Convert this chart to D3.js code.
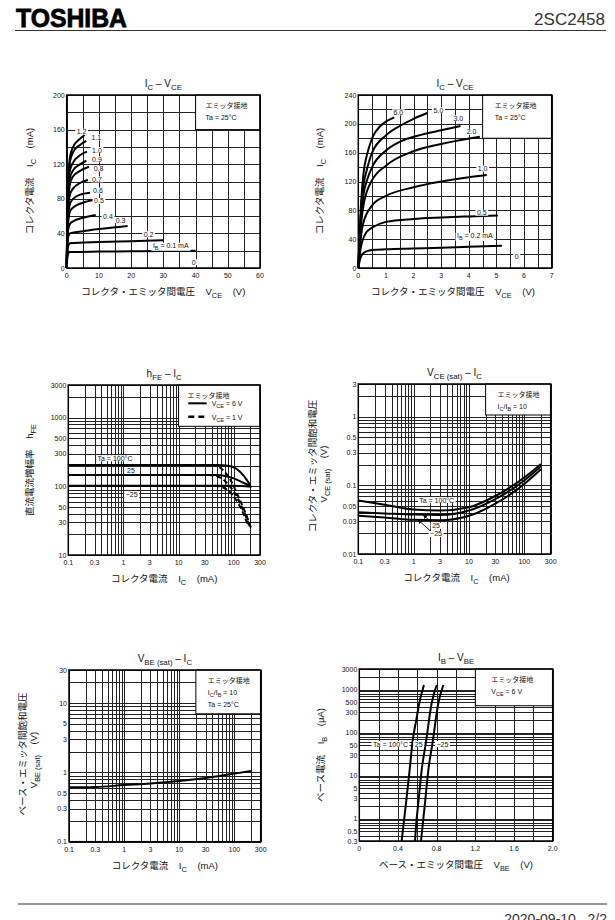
<!DOCTYPE html>
<html>
<head>
<meta charset="utf-8">
<script src="https://cdn.jsdelivr.net/npm/d3@7"></script>
<style>
  body { margin: 0; background: #fff; }
  text { font-family: "Liberation Sans", "Noto Sans CJK JP", sans-serif; fill: #111; white-space: pre; }
</style>
</head>
<body>
<div id="page"></div>
<script>
// ---- data ----

// IC - VCE (0..60 V), IB in mA ; points are [VCE, IC]
const c1Names = ["I_{B} = 0.1 mA", "0.2", "0.3", "0.4", "0.5", "0.6", "0.7", "0.8", "0.9", "1.0", "1.1", "1.2", "0"];
const c1Curves = [
  [[0, 0], [0.2, 12], [0.5, 17], [1, 18.5], [10, 19], [20, 19.3], [30, 19.6], [40, 20]],
  [[0, 0], [0.2, 18], [0.5, 26], [1, 28.5], [10, 30], [20, 31], [30, 32]],
  [[0, 0], [0.2, 25], [0.5, 36], [1, 40], [5, 42.5], [10, 45], [18.9, 48.5]],
  [[0, 0], [0.2, 30], [0.5, 45], [1, 51], [2, 54], [5, 58], [9, 61.3]],
  [[0, 0], [0.2, 35], [0.5, 55], [1, 65], [2, 70], [5, 75.5], [8.2, 78.6]],
  [[0, 0], [0.2, 40], [0.5, 62], [1, 74], [2, 80], [4, 84.5], [7.2, 87]],
  [[0, 0], [0.2, 45], [0.5, 70], [1, 85], [2, 92], [4, 98], [6.6, 101.7]],
  [[0, 0], [0.2, 50], [0.5, 78], [1, 97], [2, 106], [4, 112], [6.9, 117]],
  [[0, 0], [0.2, 52], [0.5, 82], [1, 104], [2, 113], [4, 119.5], [6.1, 124]],
  [[0, 0], [0.2, 55], [0.5, 88], [1, 113], [2, 122], [4, 130], [6.3, 134.5]],
  [[0, 0], [0.2, 58], [0.5, 95], [1, 123], [2, 134], [4, 142], [6.1, 147]],
  [[0, 0], [0.2, 60], [0.5, 100], [1, 128], [2, 140], [4, 149], [5.6, 153.8]]
];
const c1LabelAt = [[32.3, 25.8], [25.4, 39], [16.7, 55.5], [12.8, 60], [10, 77.5], [9.7, 89.4], [9.4, 102.5],
  [9.9, 115], [9.4, 125.7], [9.4, 136.4], [9.2, 151], [4.6, 157.6], [39.4, 6.6]];
const c1XTicks = ["0", "10", "20", "30", "40", "50", "60"];
const c1YTicks = ["0", "40", "80", "120", "160", "200"];

// IC - VCE (0..7 V)
const c2Names = ["I_{B} = 0.2 mA", "0.5", "1.0", "2.0", "3.0", "5.0", "6.0", "0"];
const c2Curves = [
  [[0, 0], [0.05, 10], [0.1, 16], [0.2, 21], [0.3, 23], [0.5, 25], [1, 26], [2, 27], [3, 28], [4, 29.5], [5.2, 31]],
  [[0, 0], [0.05, 18], [0.1, 30], [0.2, 43], [0.3, 50], [0.5, 56], [1, 64], [2, 68], [3, 70], [4, 71.5], [5.05, 73]],
  [[0, 0], [0.05, 25], [0.1, 45], [0.2, 65], [0.3, 75], [0.5, 87], [1, 100], [2, 112], [3, 120], [4, 126], [4.65, 129]],
  [[0, 0], [0.05, 35], [0.1, 60], [0.2, 90], [0.3, 105], [0.5, 122], [1, 142], [2, 162], [3, 172], [3.5, 176], [4.4, 182]],
  [[0, 0], [0.05, 40], [0.1, 70], [0.2, 105], [0.3, 120], [0.5, 140], [1, 163], [1.5, 175], [2.3, 185], [3, 191], [3.7, 197]],
  [[0, 0], [0.05, 45], [0.1, 80], [0.2, 118], [0.3, 135], [0.5, 160], [1, 184], [1.5, 197], [2, 207], [2.5, 215]],
  [[0, 0], [0.05, 50], [0.1, 90], [0.2, 135], [0.3, 155], [0.5, 180], [0.8, 197], [1.0, 203], [1.3, 209]]
];
const c2LabelAt = [[4.22, 44.8], [4.47, 76.7], [4.5, 138], [4.1, 189], [3.62, 207.6], [2.9, 219], [1.45, 216], [5.73, 16.6]];
const c2XTicks = ["0", "1", "2", "3", "4", "5", "6", "7"];
const c2YTicks = ["0", "40", "80", "120", "160", "200", "240"];

// hFE - IC ; [IC mA, hFE]
const c3Names = ["Ta = 100°C", "25", "−25"];
const c3Solid = [
  [[0.1, 205], [1, 205], [10, 205], [50, 205], [80, 200], [110, 182], [150, 145], [200, 104]],
  [[0.1, 147], [10, 147], [50, 146], [70, 142], [100, 131], [150, 113], [200, 101]],
  [[0.1, 102], [10, 102], [100, 102], [210, 99]]
];
const c3Dashed = [
  [[40, 205], [55, 190], [70, 160], [90, 120], [110, 85], [140, 55], [170, 38], [205, 25]],
  [[35, 147], [50, 140], [65, 125], [85, 100], [110, 75], [140, 50], [170, 35], [195, 25]],
  [[45, 102], [60, 98], [75, 90], [95, 75], [120, 57], [150, 40], [185, 26]]
];
const c3LabelAt = [[0.703, 257], [1.37, 168], [1.41, 75]];
const logXTicks = ["0.1", "0.3", "1", "3", "10", "30", "100", "300"];
const c3YTicks = ["10", "30", "50", "100", "300", "500", "1000", "3000"];

// VCE(sat) - IC ; [IC mA, VCE(sat) V]
const c4Names = ["Ta = 100°C", "25", "−25"];
const c4Curves = [
  [[0.1, 0.06], [0.3, 0.052], [1, 0.0445], [3, 0.043], [10, 0.048], [30, 0.07], [100, 0.13], [200, 0.205]],
  [[0.1, 0.0405], [0.3, 0.039], [1, 0.0375], [3, 0.037], [10, 0.043], [30, 0.063], [100, 0.118], [200, 0.19]],
  [[0.1, 0.036], [0.3, 0.034], [1, 0.0315], [3, 0.031], [10, 0.036], [30, 0.054], [100, 0.105], [200, 0.172]]
];
const c4LabelAt = [[2.61, 0.0612], [2.54, 0.0258], [2.54, 0.0196]];
const c4ArrowFrom = [[1.92, 0.0306], [1.98, 0.0219]];
const c4ArrowTo = [[1.5, 0.0372], [1.2, 0.0316]];
const c4YTicks = ["0.01", "0.03", "0.05", "0.1", "0.3", "0.5", "1", "3"];

// VBE(sat) - IC ; [IC mA, VBE(sat) V]
const c5Curve = [[0.1, 0.61], [0.2, 0.61], [0.3, 0.615], [1, 0.655], [3, 0.69], [10, 0.75], [30, 0.83], [100, 0.96], [200, 1.05]];
const c5YTicks = ["0.1", "0.3", "0.5", "1", "3", "5", "10", "30"];

// IB - VBE ; [VBE V, IB uA]
const c6Names = ["Ta = 100°C", "25", "−25"];
const c6Curves = [
  [[0.438, 0.3], [0.48, 2], [0.52, 13], [0.55, 60], [0.59, 200], [0.62, 480], [0.669, 1275]],
  [[0.576, 0.3], [0.586, 0.64], [0.61, 2.26], [0.645, 13.4], [0.69, 61], [0.748, 478], [0.8, 1275]],
  [[0.638, 0.3], [0.679, 2.26], [0.714, 13.4], [0.759, 61], [0.817, 478], [0.869, 1275]]
];
const c6LabelAt = [[0.323, 54], [0.614, 54], [0.86, 54]];
const c6XTicks = ["0", "0.4", "0.8", "1.2", "1.6", "2.0"];
const c6YTicks = ["0.3", "0.5", "1", "3", "5", "10", "30", "50", "100", "300", "500", "1000", "3000"];

// ---- drawing ----
const svg = d3.select("#page").append("svg").attr("width", 615).attr("height", 920);

// text with _{sub} parts
function rich(t, str, fs) {
  const bits = str.split(/_\{([^}]*)\}/);
  let down = false;
  bits.forEach((b, i) => {
    if (b === "") return;
    const ts = t.append("tspan").text(b);
    if (i % 2 === 1) {
      ts.attr("font-size", fs * 0.78);
      if (!down) { ts.attr("dy", fs * 0.3); down = true; }
    } else if (down) {
      ts.attr("dy", -fs * 0.3); down = false;
    }
  });
  return t;
}

function txt(g, x, y, str, fs, anchor, rot) {
  const t = g.append("text")
    .attr("font-size", fs)
    .attr("text-anchor", anchor || "middle");
  if (rot) t.attr("transform", `translate(${x},${y}) rotate(-90)`);
  else t.attr("x", x).attr("y", y);
  return rich(t, str, fs);
}

// label with white background that cuts the grid
function tag(g, px, py, str, fs) {
  const t = txt(g, px, py + fs * 0.36, str, fs, "middle");
  const bb = t.node().getBBox();
  g.insert("rect", () => t.node())
    .attr("x", bb.x - 1.5).attr("y", bb.y + 0.5)
    .attr("width", bb.width + 3).attr("height", Math.max(bb.height - 1, 0))
    .attr("fill", "#fff");
}

function chart(o) {
  const g = svg.append("g");
  const x = (o.xLog ? d3.scaleLog() : d3.scaleLinear()).domain(o.xDom).range([o.l, o.r]);
  const y = (o.yLog ? d3.scaleLog() : d3.scaleLinear()).domain(o.yDom).range([o.b, o.t]);
  // log axes: every k*10^n ; linear axes: ticks at the given count
  const xg = o.xLog ? x.ticks() : x.ticks(o.xN);
  const yg = o.yLog ? y.ticks() : y.ticks(o.yN);

  // whole grid as one path, pixel-snapped
  const snap = v => Math.round(v) + 0.5;
  let d = "";
  xg.forEach(v => { d += `M${snap(x(v))},${o.t}V${o.b}`; });
  yg.forEach(v => { d += `M${o.l},${snap(y(v))}H${o.r}`; });
  g.append("path").attr("d", d)
    .attr("fill", "none").attr("stroke", "#222").attr("stroke-width", 1)
    .attr("shape-rendering", "crispEdges");

  // condition box in the top right corner
  g.append("rect")
    .attr("x", x(o.box[0])).attr("y", o.t)
    .attr("width", o.r - x(o.box[0])).attr("height", y(o.box[1]) - o.t)
    .attr("fill", "#fff").attr("stroke", "#000").attr("stroke-width", 1);
  o.boxText.forEach((s, i) => txt(g, x(o.box[0]) + o.boxPad, o.t + 13 + i * 12, s, 7, "start"));

  g.append("rect")
    .attr("x", o.l).attr("y", o.t).attr("width", o.r - o.l).attr("height", o.b - o.t)
    .attr("fill", "none").attr("stroke", "#000").attr("stroke-width", 1.5);

  g.append("g").selectAll("text").data(o.xTicks).join("text")
    .attr("x", d => x(+d)).attr("y", o.b + 10)
    .attr("text-anchor", "middle").attr("font-size", 7).text(d => d);
  g.append("g").selectAll("text").data(o.yTicks).join("text")
    .attr("x", o.l - 2).attr("y", d => y(+d) + 2.5)
    .attr("text-anchor", "end").attr("font-size", 7).text(d => d);

  txt(g, (o.l + o.r) / 2, o.t - 8, o.title, 10);
  txt(g, (o.l + o.r) / 2 + o.xLabDx, o.b + 27, o.xLabel, 9.5);
  o.yLabel.forEach((s, i) => txt(g, o.yLabX[i], o.yLabY[i], s, 9.5, "middle", true));
  return { g, x, y };
}

function curves(c, data, dash) {
  const line = d3.line().x(d => c.x(d[0])).y(d => c.y(d[1])).curve(d3.curveMonotoneX);
  c.g.append("g").selectAll("path").data(data).join("path")
    .attr("d", line).attr("fill", "none").attr("stroke", "#000")
    .attr("stroke-width", 2).attr("stroke-dasharray", dash || null);
}

// header / footer
svg.append("text").attr("x", 16).attr("y", 27).attr("font-size", 26)
  .attr("font-weight", "bold").attr("textLength", 111).attr("lengthAdjust", "spacingAndGlyphs")
  .attr("stroke", "#000").attr("stroke-width", 0.8).style("fill", "#000").text("TOSHIBA");
svg.append("text").attr("x", 605).attr("y", 25).attr("font-size", 17)
  .attr("text-anchor", "end").style("fill", "#333").text("2SC2458");
svg.append("line").attr("x1", 15).attr("x2", 606).attr("y1", 30.5).attr("y2", 30.5)
  .attr("stroke", "#333").attr("stroke-width", 1.2);
svg.append("line").attr("x1", 18).attr("x2", 607).attr("y1", 904).attr("y2", 904)
  .attr("stroke", "#333").attr("stroke-width", 1.2);
svg.append("text").attr("x", 607).attr("y", 924).attr("font-size", 14)
  .attr("text-anchor", "end").style("fill", "#333").text("2020-09-10   2/2");

const JP_GND = "エミッタ接地";

// chart 1
const c1 = chart({
  l: 66.7, r: 260, t: 95, b: 268, xDom: [0, 60], yDom: [0, 200], xN: 12, yN: 10,
  box: [40, 160], boxPad: 10, boxText: [JP_GND, "Ta = 25°C"],
  xTicks: c1XTicks, yTicks: c1YTicks,
  title: "I_{C} – V_{CE}", xLabel: "コレクタ・エミッタ間電圧    V_{CE}    (V)", xLabDx: 0,
  yLabel: ["コレクタ電流    I_{C}    (mA)"], yLabX: [33], yLabY: [181]
});
curves(c1, c1Curves);
c1Names.forEach((s, i) => tag(c1.g, c1.x(c1LabelAt[i][0]), c1.y(c1LabelAt[i][1]), s, 7));

// chart 2
const c2 = chart({
  l: 358.3, r: 551.7, t: 95, b: 268, xDom: [0, 7], yDom: [0, 240], xN: 14, yN: 12,
  box: [4.5, 180], boxPad: 12, boxText: [JP_GND, "Ta = 25°C"],
  xTicks: c2XTicks, yTicks: c2YTicks,
  title: "I_{C} – V_{CE}", xLabel: "コレクタ・エミッタ間電圧    V_{CE}    (V)", xLabDx: -2,
  yLabel: ["コレクタ電流    I_{C}    (mA)"], yLabX: [323], yLabY: [181]
});
curves(c2, c2Curves);
c2Names.forEach((s, i) => tag(c2.g, c2.x(c2LabelAt[i][0]), c2.y(c2LabelAt[i][1]), s, 7));

// chart 3
const c3 = chart({
  l: 68.3, r: 260, t: 385, b: 555, xLog: true, yLog: true, xDom: [0.1, 300], yDom: [10, 3000],
  box: [10, 750], boxPad: 9, boxText: [JP_GND],
  xTicks: logXTicks, yTicks: c3YTicks,
  title: "h_{FE} – I_{C}", xLabel: "コレクタ電流    I_{C}    (mA)", xLabDx: 0,
  yLabel: ["直流電流増幅率    h_{FE}"], yLabX: [33], yLabY: [470]
});
curves(c3, c3Solid);
curves(c3, c3Dashed, "5,3");
c3.g.append("line").attr("x1", 188.3).attr("x2", 206.7).attr("y1", 403.3).attr("y2", 403.3)
  .attr("stroke", "#000").attr("stroke-width", 2);
c3.g.append("line").attr("x1", 188.3).attr("x2", 206.7).attr("y1", 416.7).attr("y2", 416.7)
  .attr("stroke", "#000").attr("stroke-width", 2.5).attr("stroke-dasharray", "6,4");
txt(c3.g, 211.7, 406, "V_{CE} = 6 V", 7, "start");
txt(c3.g, 211.7, 419.5, "V_{CE} = 1 V", 7, "start");
c3Names.forEach((s, i) => tag(c3.g, c3.x(c3LabelAt[i][0]), c3.y(c3LabelAt[i][1]), s, 7));

// chart 4
const c4 = chart({
  l: 358.3, r: 550.7, t: 384, b: 554, xLog: true, yLog: true, xDom: [0.1, 300], yDom: [0.01, 3],
  box: [20, 1.06], boxPad: 12, boxText: [JP_GND, "I_{C}/I_{B} = 10"],
  xTicks: logXTicks, yTicks: c4YTicks,
  title: "V_{CE (sat)} – I_{C}", xLabel: "コレクタ電流    I_{C}    (mA)", xLabDx: 2,
  yLabel: ["コレクタ・エミッタ間飽和電圧", "V_{CE (sat)}    (V)"], yLabX: [316, 327], yLabY: [466, 474]
});
curves(c4, c4Curves);
c4Names.forEach((s, i) => tag(c4.g, c4.x(c4LabelAt[i][0]), c4.y(c4LabelAt[i][1]), s, 7));
svg.append("defs").append("marker").attr("id", "ah").attr("viewBox", "0 0 10 10")
  .attr("refX", 9).attr("refY", 5).attr("markerWidth", 5).attr("markerHeight", 5)
  .attr("orient", "auto").append("path").attr("d", "M0,0L10,5L0,10z").attr("fill", "#000");
c4.g.append("g").selectAll("line").data(c4ArrowFrom).join("line")
  .attr("x1", d => c4.x(d[0])).attr("y1", d => c4.y(d[1]))
  .attr("x2", (d, i) => c4.x(c4ArrowTo[i][0])).attr("y2", (d, i) => c4.y(c4ArrowTo[i][1]))
  .attr("stroke", "#000").attr("stroke-width", 0.9).attr("marker-end", "url(#ah)");

// chart 5
const c5 = chart({
  l: 69, r: 260.7, t: 670, b: 841.7, xLog: true, yLog: true, xDom: [0.1, 300], yDom: [0.1, 30],
  box: [20, 7], boxPad: 12, boxText: [JP_GND, "I_{C}/I_{B} = 10", "Ta = 25°C"],
  xTicks: logXTicks, yTicks: c5YTicks,
  title: "V_{BE (sat)} – I_{C}", xLabel: "コレクタ電流    I_{C}    (mA)", xLabDx: 0,
  yLabel: ["ベース・エミッタ間飽和電圧", "V_{BE (sat)}    (V)"], yLabX: [26, 37], yLabY: [754, 760]
});
curves(c5, [c5Curve]);

// chart 6
const c6 = chart({
  l: 359.3, r: 552.7, t: 669, b: 841, yLog: true, xDom: [0, 2], yDom: [0.3, 3000], xN: 10,
  box: [1.2, 420], boxPad: 16, boxText: [JP_GND, "V_{CE} = 6 V"],
  xTicks: c6XTicks, yTicks: c6YTicks,
  title: "I_{B} – V_{BE}", xLabel: "ベース・エミッタ間電圧    V_{BE}    (V)", xLabDx: 0,
  yLabel: ["ベース電流    I_{B}    (µA)"], yLabX: [324], yLabY: [755]
});
curves(c6, c6Curves);
c6Names.forEach((s, i) => tag(c6.g, c6.x(c6LabelAt[i][0]), c6.y(c6LabelAt[i][1]), s, 7));
</script>
</body>
</html>
